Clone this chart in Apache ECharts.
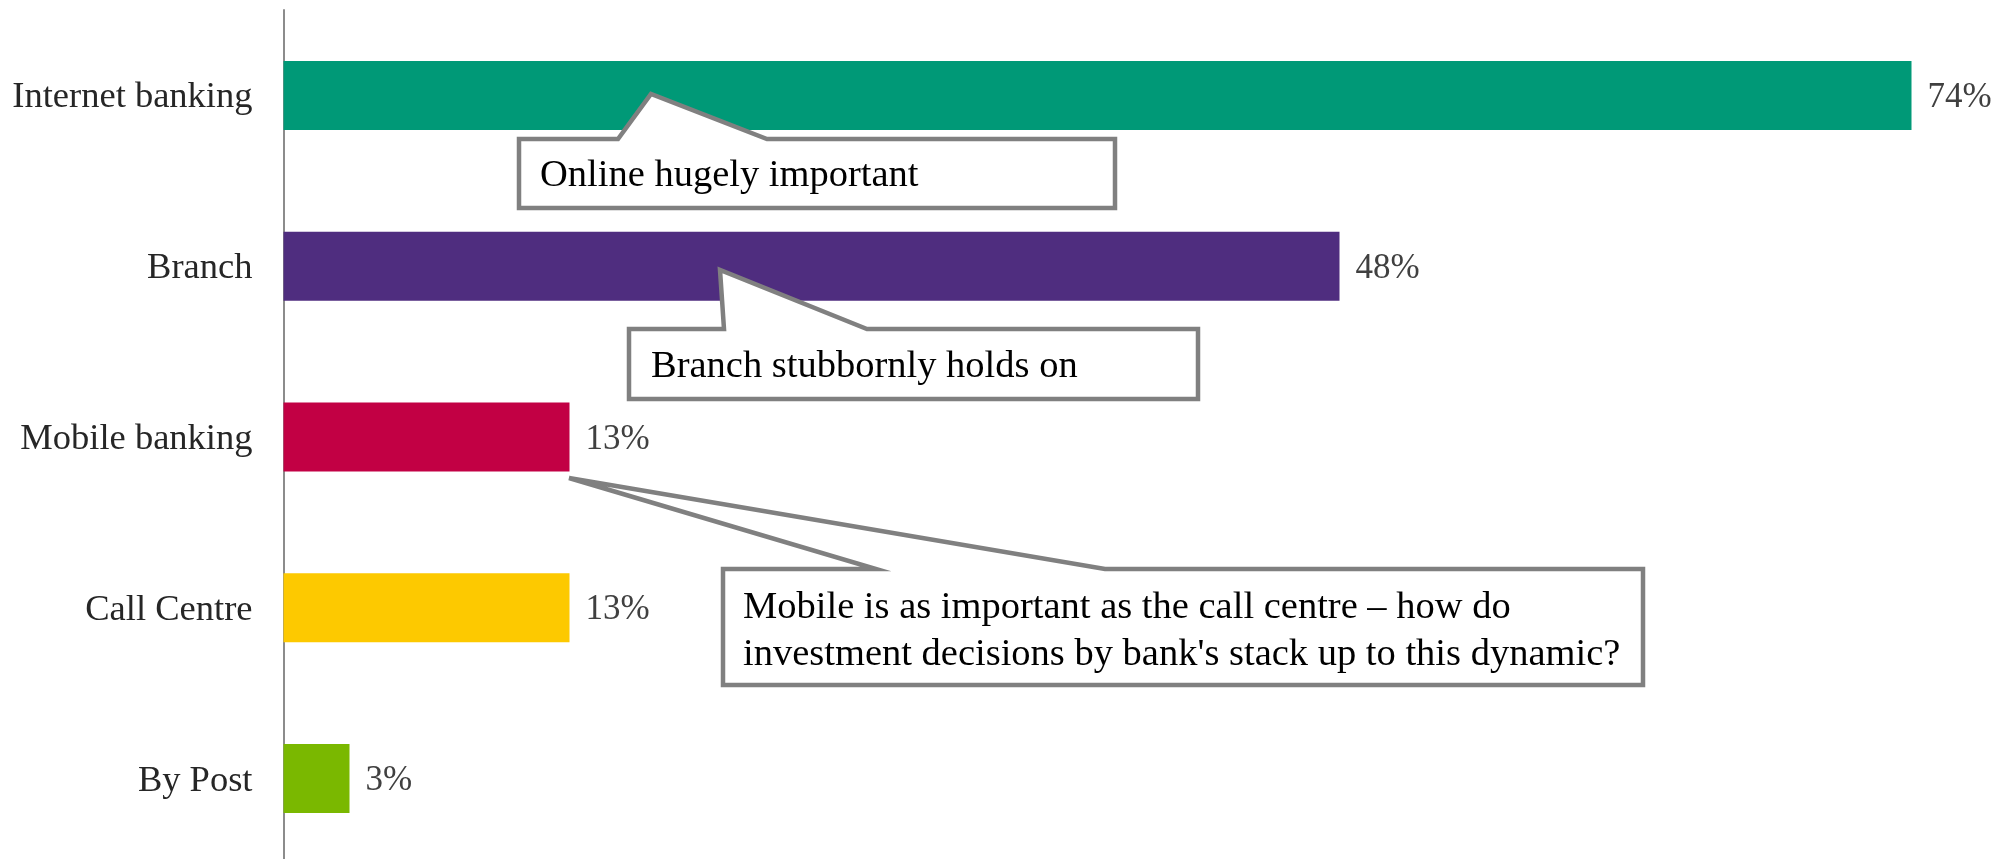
<!DOCTYPE html>
<html>
<head>
<meta charset="utf-8">
<title>Banking channels</title>
<script src="https://cdn.jsdelivr.net/npm/echarts@6/dist/echarts.min.js"></script>
<style>
  html, body { margin: 0; padding: 0; background: #ffffff; }
  #chart { width: 1995px; height: 859px; }
</style>
</head>
<body>
<div id="chart"></div>
<script>
// Share of respondents using each banking channel (%)
const channels = ['Internet banking', 'Branch', 'Mobile banking', 'Call Centre', 'By Post'];
const shares = [74, 48, 13, 13, 3];
const channelColors = ['#009977', '#4f2d7f', '#c20044', '#fdc900', '#7ab800'];

// Callout texts (one entry per line)
const noteOnline = ['Online hugely important'];
const noteBranch = ['Branch stubbornly holds on'];
const noteMobile = ['Mobile is as important as the call centre \u2013 how do',
                    "investment decisions by bank's stack up to this dynamic?"];

const FONT = '"Liberation Serif", "DejaVu Serif", serif';

// Speech-bubble outlines: box edges, wedge base on the top edge, wedge tip
const bubbles = [
  { lines: noteOnline, box: [519, 139, 1115, 208], base: [618, 767], tip: [651, 94], textX: 540, textY: [176] },
  { lines: noteBranch, box: [629, 329, 1198, 399], base: [724, 867], tip: [720, 270], textX: 651, textY: [366.5] },
  { lines: noteMobile, box: [723, 569, 1643, 685], base: [876, 1105], tip: [569, 478], textX: 743, textY: [607.5, 654.5] }
];

function bubbleElements(b) {
  const [x0, y0, x1, y1] = b.box;
  const els = [{
    type: 'polygon',
    z: 100,
    shape: { points: [[x0, y0], [b.base[0], y0], b.tip, [b.base[1], y0], [x1, y0], [x1, y1], [x0, y1]] },
    style: { fill: '#ffffff', stroke: '#808080', lineWidth: 4.5, lineJoin: 'miter' }
  }];
  b.lines.forEach((t, i) => {
    els.push({
      type: 'text',
      z: 101,
      x: b.textX,
      y: b.textY[i],
      style: { text: t, font: '38.5px ' + FONT, fill: '#000000', textAlign: 'left', textVerticalAlign: 'middle' }
    });
  });
  return els;
}

const chart = echarts.init(document.getElementById('chart'), null, { renderer: 'canvas' });

chart.setOption({
  backgroundColor: '#ffffff',
  animation: false,
  grid: {
    left: 283.5, top: 10, width: 1694, height: 854,
    containLabel: false,
    outerBoundsMode: 'none'
  },
  xAxis: {
    type: 'value',
    min: 0,
    max: 77,
    show: false
  },
  yAxis: {
    type: 'category',
    data: channels,
    inverse: true,
    axisLine: { show: true, lineStyle: { color: '#8c8c8c', width: 2 } },
    axisTick: { show: false },
    axisLabel: {
      margin: 31,
      formatter: (name) => '{c|' + name + '}',
      rich: {
        c: { fontFamily: FONT, fontSize: 36.5, color: '#262626', padding: [5, 0, 0, 0] }
      }
    },
    splitLine: { show: false }
  },
  series: [{
    type: 'bar',
    barWidth: 69,
    data: shares.map((v, i) => ({ value: v, itemStyle: { color: channelColors[i] } })),
    label: {
      show: true,
      position: 'right',
      distance: 16,
      offset: [0, 2.5],
      formatter: '{c}%',
      fontFamily: FONT,
      fontSize: 35,
      color: '#404040'
    }
  }],
  graphic: { elements: bubbles.flatMap(bubbleElements) }
});
</script>
</body>
</html>
